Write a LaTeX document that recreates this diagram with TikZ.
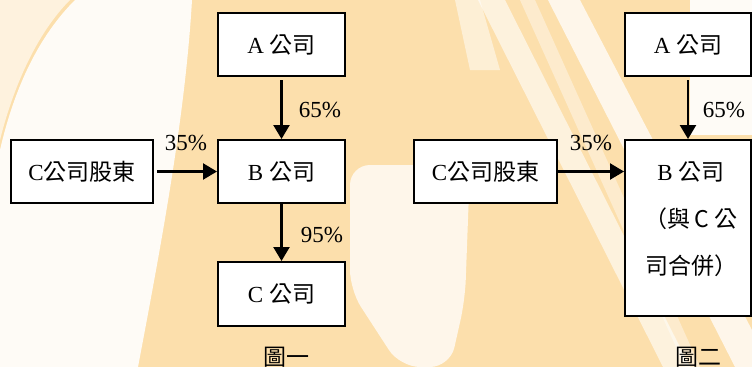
\documentclass[tikz,border=0pt]{standalone}
\usepackage{fontspec}
\setmainfont{Liberation Serif}
\newfontfamily\cjk{Noto Sans CJK TC}
\usetikzlibrary{arrows.meta}
\definecolor{wm}{RGB}{252,223,172}
\begin{document}
\begin{tikzpicture}[x=1pt,y=-1pt,
  txt/.style={font=\fontsize{23}{27}\selectfont},
  box/.style={draw, line width=2pt, fill=white, inner sep=0pt,
    minimum width=127pt, minimum height=63pt, txt},
  lbl/.style={inner sep=0pt, txt},
  arr/.style={-{Triangle[length=14pt,width=16pt]}, line width=2.4pt}]
\useasboundingbox (0,0) rectangle (752,367);
% watermark background
\fill[wm] (0,0) rectangle (752,367);
\fill[wm!40] (0,0) -- (70,0) .. controls (40,30) and (15,80) .. (0,140) -- cycle;
\fill[white, opacity=0.9] (75,0) -- (192,0) .. controls (185,120) and (160,250) .. (138,367) -- (0,367) -- (0,150) .. controls (15,85) and (40,35) .. (75,0) -- cycle;
\fill[white, opacity=0.75, rounded corners=20pt] (350,165) -- (470,165) -- (465,300) -- (450,367) -- (400,367) -- (350,290) -- cycle;
\fill[white, opacity=0.6] (478,0) -- (505,0) -- (690,367) -- (663,367) -- cycle;
\fill[white, opacity=0.75] (548,0) -- (580,0) -- (752,330) -- (752,367) -- (735,367) -- cycle;
\fill[white, opacity=0.4] (520,0) -- (535,0) -- (700,367) -- (685,367) -- cycle;
\fill[white, opacity=0.9] (690,0) rectangle (752,135);
\fill[white, opacity=0.5] (455,0) -- (480,0) -- (500,70) -- (470,70) -- cycle;

% figure 1
\node[box] (A1) at (281.5,44.5) {A \cjk{公司}};
\node[box] (B1) at (281.5,171.5) {B \cjk{公司}};
\node[box, minimum height=64pt] (C1) at (281.5,294) {C \cjk{公司}};
\node[box, minimum width=142pt] (S1) at (82,171.5) {C\cjk{公司股東}};
\draw[arr] ([yshift=-3pt]A1.south) -- (B1.north);
\draw[arr] ([xshift=3pt]S1.east) -- (B1.west);
\draw[arr] (B1.south) -- (C1.north);
\node[lbl] (p65a) at (320,110) {65\%};
\node[lbl] (p35a) at (186,143) {35\%};
\node[lbl] (p95a) at (322,235) {95\%};
\node[lbl] (f1) at (286,357) {\cjk{圖一}};

% figure 2
\node[box, minimum width=126pt] (A2) at (688,44.5) {A \cjk{公司}};
\node[box, minimum width=126pt, minimum height=176pt] (B2) at (688,228) {};
\node[lbl, align=center] (B2t) at (691,219.5) {B \cjk{公司}\\[20pt]\cjk{（與}\,C \cjk{公}\\[20pt]\cjk{司合併）}};
\node[box, minimum width=143pt] (S2) at (485.5,171.5) {C\cjk{公司股東}};
\draw[arr] ([yshift=-3pt]A2.south) -- (B2.north);
\draw[arr] (S2.east) -- (S2.east -| B2.west);
\node[lbl] (p65b) at (724,110) {65\%};
\node[lbl] (p35b) at (591,143) {35\%};
\node[lbl] (f2) at (698,357) {\cjk{圖二}};
\end{tikzpicture}
\end{document}
